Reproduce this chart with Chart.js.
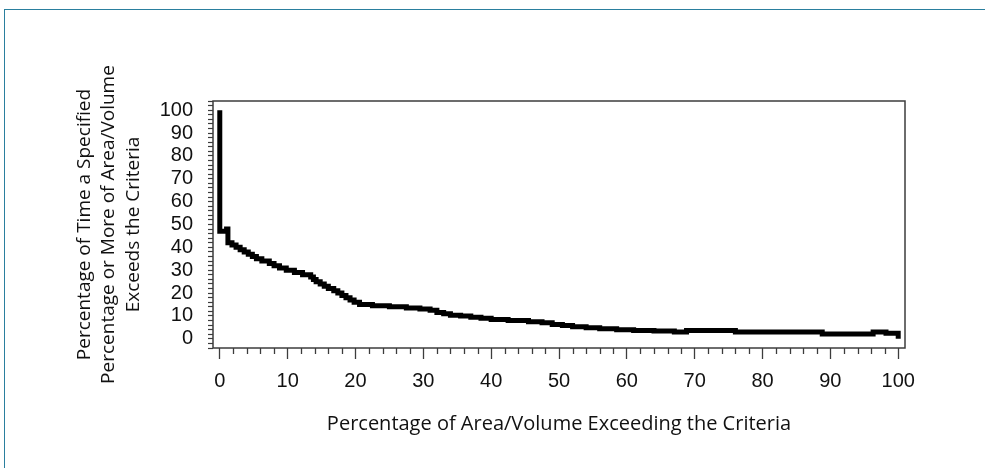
<!DOCTYPE html>
<html>
<head>
<meta charset="utf-8">
<script src="https://cdn.jsdelivr.net/npm/chart.js@4.4.1/dist/chart.umd.min.js"></script>
<style>
html, body { margin: 0; padding: 0; background: #fff; }
#wrap { position: relative; width: 985px; height: 468px; overflow: hidden; }
#frame { position: absolute; left: 4px; top: 9px; width: 1000px; height: 500px;
  border-top: 1.5px solid #2a7f9e; border-left: 1.5px solid #2a7f9e; }
#c { position: absolute; left: 0; top: 0; }
</style>
</head>
<body>
<div id="wrap">
  <div id="frame"></div>
  <canvas id="c" width="985" height="468"></canvas>
</div>
<script>
// Percentage of area/volume exceeding the criteria (x) where the level changes
var areaPct = [
    0, 0, 1.0, 1.2, 1.8, 2.4, 3.0, 3.6, 4.2, 4.8, 5.4, 6.2, 7.3, 8.0, 8.8, 9.8,
    11.0, 12.2, 13.4, 13.8, 14.2, 14.8, 15.4, 16.0, 16.8, 17.4, 18.0, 18.6, 19.2, 19.8,
    20.6, 22.5, 25.0, 27.5, 29.5, 31.0, 32.0, 33.0, 34.0, 35.5, 37.0, 38.5, 40.0,
    42.5, 45.5, 47.5, 49.0, 50.5, 52.0, 54.0, 56.0, 58.5, 61.0, 64.0, 67.0, 68.8,
    76.0, 88.8, 96.3, 98.2, 100, 100
];
// Percentage of time that level is met or exceeded (y)
var timePct = [
    100, 47, 48, 42, 41, 40, 39, 38, 37, 36, 35, 34, 33, 32, 31, 30,
    29, 28, 27, 26, 25, 24, 23, 22, 21, 20, 19, 18, 17, 16,
    15, 14.5, 14, 13.5, 13, 12.5, 11.5, 11, 10.3, 10, 9.5, 9, 8.5,
    8, 7.5, 7, 6.3, 5.8, 5.3, 4.9, 4.4, 4.0, 3.7, 3.4, 3.0, 3.7,
    3.0, 2.1, 3.0, 2.4, 2.4, 0
];
var xTickValues = [0, 10, 20, 30, 40, 50, 60, 70, 80, 90, 100];
var yTickValues = [0, 10, 20, 30, 40, 50, 60, 70, 80, 90, 100];

var yTitle = [
    'Percentage of Time a Specified',
    'Percentage or More of Area/Volume',
    'Exceeds the Criteria'
];
var xTitle = 'Percentage of Area/Volume Exceeding the Criteria';

var points = areaPct.map(function (x, i) {
    return {x: x, y: timePct[i]};
});

// box around the plot + short minor ticks on x
var plotBox = {
    id: 'plotBox',
    afterDraw: function (chart) {
        var ctx = chart.ctx;
        var a = chart.chartArea;
        var xs = chart.scales.x;
        ctx.save();
        ctx.strokeStyle = '#3c3c3c';
        ctx.lineWidth = 1.5;
        ctx.strokeRect(a.left, a.top, a.right - a.left, a.bottom - a.top);
        ctx.lineWidth = 1.3;
        for (var v = 0; v <= 100; v += 2) {
            if (v % 10 === 0) continue;
            var px = Math.round(xs.getPixelForValue(v)) + 0.5;
            ctx.beginPath();
            ctx.moveTo(px, a.bottom);
            ctx.lineTo(px, a.bottom + 6);
            ctx.stroke();
        }
        ctx.restore();
    }
};

new Chart(document.getElementById('c'), {
    type: 'line',
    data: {
        datasets: [{
            data: points,
            borderColor: '#000',
            borderWidth: 5,
            pointRadius: 0,
            stepped: 'before',
            fill: false
        }]
    },
    plugins: [plotBox],
    options: {
        responsive: false,
        animation: false,
        layout: {padding: {top: 101, right: 80, left: 0, bottom: 0}},
        plugins: {legend: {display: false}, tooltip: {enabled: false}},
        scales: {
            x: {
                type: 'linear',
                min: -1,
                max: 101,
                afterBuildTicks: function (s) {
                    s.ticks = xTickValues.map(function (v) { return {value: v}; });
                },
                afterFit: function (s) { s.height = 120; },
                border: {display: false},
                grid: {drawOnChartArea: false, tickLength: 11, tickColor: '#3c3c3c', tickWidth: 1.3},
                ticks: {
                    autoSkip: false,
                    maxRotation: 0,
                    padding: 10,
                    color: '#111',
                    font: {family: "'Liberation Sans', Arial, sans-serif", size: 20}
                },
                title: {
                    display: true,
                    text: xTitle,
                    color: '#111',
                    font: {family: "'Open Sans', sans-serif", size: 20, lineHeight: 1.2},
                    padding: {top: 0, bottom: 32}
                }
            },
            y: {
                type: 'linear',
                min: -4,
                max: 104,
                afterBuildTicks: function (s) {
                    var t = [];
                    for (var v = -4; v <= 104; v += 2) t.push({value: v});
                    s.ticks = t;
                },
                afterFit: function (s) { s.width = 213; },
                border: {display: false},
                grid: {drawOnChartArea: false, tickLength: 5, tickColor: '#3c3c3c', tickWidth: 1.2},
                ticks: {
                    autoSkip: false,
                    padding: 15,
                    color: '#111',
                    font: {family: "'Liberation Sans', Arial, sans-serif", size: 20},
                    callback: function (v) {
                        return yTickValues.indexOf(v) >= 0 ? String(v) : '';
                    }
                },
                title: {
                    display: true,
                    text: yTitle,
                    color: '#111',
                    font: {family: "'Open Sans', sans-serif", size: 19, lineHeight: 1.3},
                    padding: {top: 72, bottom: 0}
                }
            }
        }
    }
});
</script>
</body>
</html>
